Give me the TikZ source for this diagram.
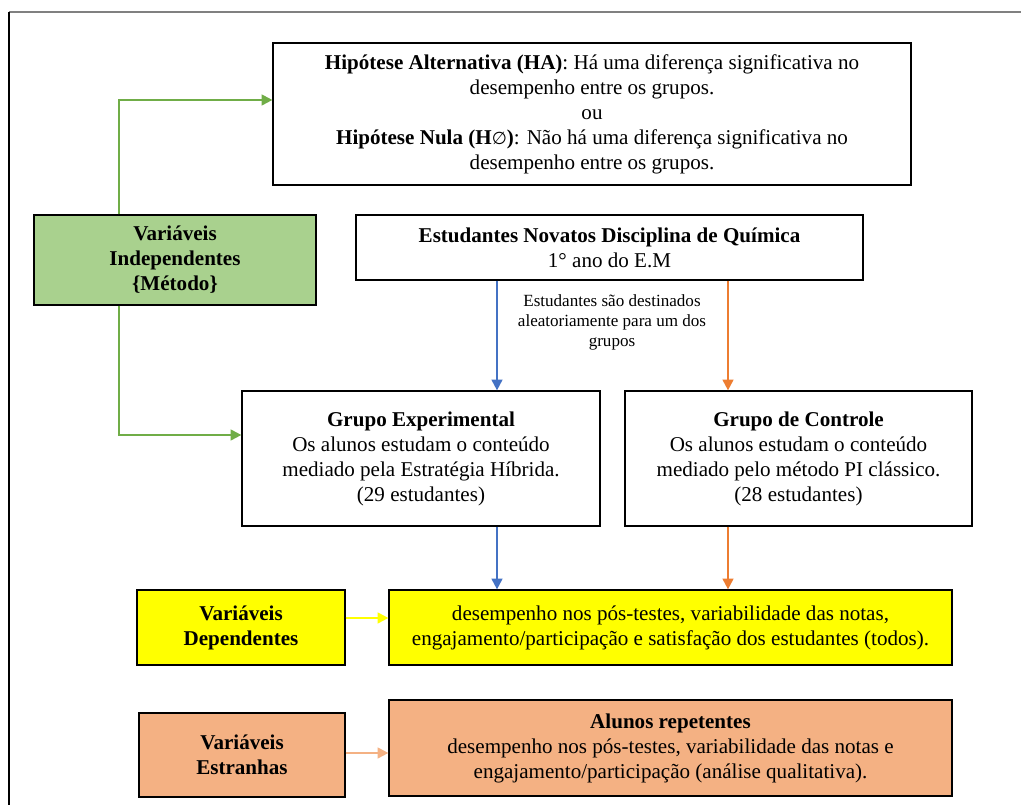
\documentclass[tikz,border=0pt]{standalone}
\usepackage{fontspec}
\setmainfont{Liberation Serif}
\newfontfamily\simbolo{DejaVu Sans}
\usetikzlibrary{arrows.meta}

\definecolor{verde}{HTML}{70AD47}
\definecolor{verdeclaro}{HTML}{A9D18E}
\definecolor{azul}{HTML}{4472C4}
\definecolor{laranja}{HTML}{ED7D31}
\definecolor{amarelo}{HTML}{FFFF00}
\definecolor{salmao}{HTML}{F4B183}

\tikzset{
  caixa/.style={draw, line width=0.9pt, align=center, inner sep=0pt,
    font=\fontsize{15.8}{18.75}\selectfont},
  seta/.style={line width=1.5pt, -{Triangle[length=8pt,width=8pt]}},
}

\begin{document}
\begin{tikzpicture}[x=0.75pt,y=0.75pt]
  \useasboundingbox (0,0) rectangle (1021,805);
  % moldura
  \draw[gray, line width=1.2pt] (9,793) -- (1021,793);
  \draw[line width=1.2pt] (9,793) -- (9,0);

  % caixas
  \node[caixa, minimum width=478.5pt, minimum height=106.5pt] (ha) at (592,691)
    {\textbf{Hipótese Alternativa (HA)}: Há uma diferença significativa no\\
     desempenho entre os grupos.\\ ou\\
     \textbf{Hipótese Nula (H{\simbolo\mdseries\fontsize{13}{18.75}\selectfont ∅})}: Não há uma diferença significativa no\\
     desempenho entre os grupos.};
  \node[caixa, fill=verdeclaro, minimum width=211.5pt, minimum height=67.5pt] (ind) at (175,545)
    {\textbf{Variáveis}\\ \textbf{Independentes}\\ \textbf{\{Método\}}};
  \node[caixa, minimum width=380.25pt, minimum height=48.75pt] (est) at (609.5,557.5)
    {\textbf{Estudantes Novatos Disciplina de Química}\\ 1° ano do E.M};
  \node[caixa, minimum width=268.5pt, minimum height=101.25pt] (exp) at (421,346.5)
    {\textbf{Grupo Experimental}\\ Os alunos estudam o conteúdo\\
     mediado pela Estratégia Híbrida.\\ (29 estudantes)};
  \node[caixa, minimum width=260.25pt, minimum height=101.25pt] (ctl) at (798.5,346.5)
    {\textbf{Grupo de Controle}\\ Os alunos estudam o conteúdo\\
     mediado pelo método PI clássico.\\ (28 estudantes)};
  \node[caixa, fill=amarelo, minimum width=156pt, minimum height=56.25pt] (vdep) at (241,177.5)
    {\textbf{Variáveis}\\ \textbf{Dependentes}};
  \node[caixa, fill=amarelo, minimum width=422.25pt, minimum height=56.25pt] (dep) at (670.5,177.5)
    {desempenho nos pós-testes, variabilidade das notas,\\
     engajamento/participação e satisfação dos estudantes (todos).};
  \node[caixa, fill=salmao, minimum width=154.5pt, minimum height=63pt] (vext) at (242,50)
    {\textbf{Variáveis}\\ \textbf{Estranhas}};
  \node[caixa, fill=salmao, minimum width=422.25pt, minimum height=72pt] (ext) at (670.5,57)
    {\textbf{Alunos repetentes}\\ desempenho nos pós-testes, variabilidade das notas e\\
     engajamento/participação (análise qualitativa).};

  \node[align=center, font=\fontsize{12.8}{15}\selectfont] (nota) at (612,483)
    {Estudantes são destinados\\ aleatoriamente para um dos\\ grupos};

  % setas
  \coordinate (gx) at (119,705);
  \coordinate (gy) at (119,370);
  \coordinate (bx) at (497,0);
  \coordinate (ox) at (728,0);
  \coordinate (ya) at (0,187);
  \coordinate (sa) at (0,52);
  \draw[seta, verde] (ind.north -| gx) |- (ha.west |- gx);
  \draw[seta, verde] (ind.south -| gx) |- (exp.west |- gy);
  \draw[seta, azul] (est.south -| bx) -- (exp.north -| bx);
  \draw[seta, laranja] (est.south -| ox) -- (ctl.north -| ox);
  \draw[seta, azul] (exp.south -| bx) -- (dep.north -| bx);
  \draw[seta, laranja] (ctl.south -| ox) -- (dep.north -| ox);
  \draw[seta, amarelo] (vdep.east |- ya) -- (dep.west |- ya);
  \draw[seta, salmao] (vext.east |- sa) -- (ext.west |- sa);
\end{tikzpicture}
\end{document}
